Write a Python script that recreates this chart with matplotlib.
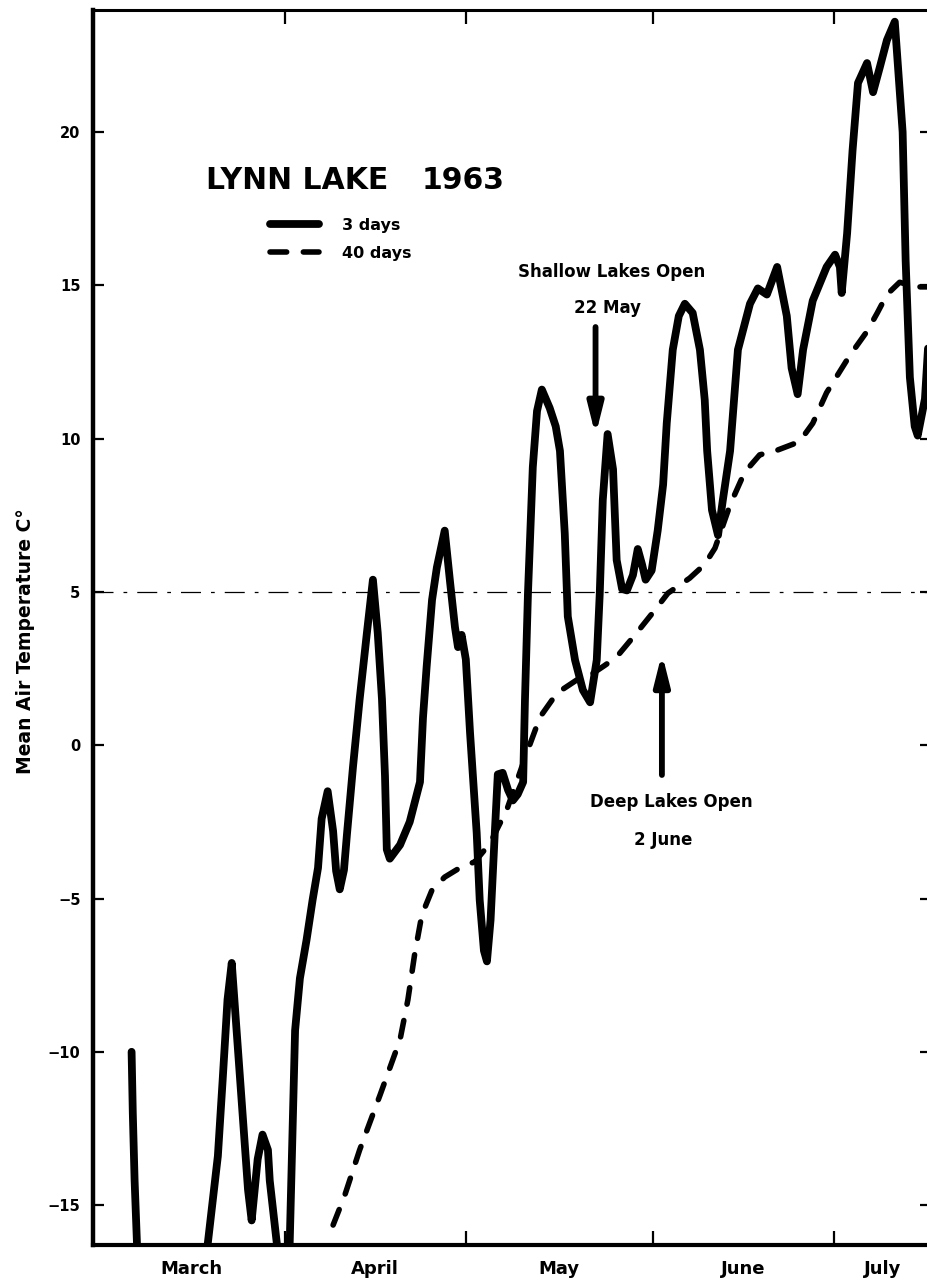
import matplotlib
matplotlib.use("Agg")
import matplotlib.pyplot as plt

# ---- data: day of year 1963 and mean air temperature (deg C) ----
days_3 = [65.6, 65.8, 66.1, 66.5, 67.3, 77.5, 78.2, 79.9, 80.7, 81.5, 82.2, 83.0,
          84.0, 84.9, 85.5, 86.5, 87.3, 88.2, 88.5, 89.7, 90.5, 91.2, 91.8, 92.7,
          93.5, 94.6, 95.6, 96.5, 97.1, 98.1, 99.0, 99.5, 100.1, 100.8, 101.3, 102.3,
          103.4, 104.6, 105.6, 106.4, 107.1, 107.6, 107.9, 108.4, 110.1, 111.7, 113.4,
          113.9, 114.5, 115.4, 116.2, 117.5, 118.4, 119.2, 119.7, 120.3, 121.0, 121.7,
          122.8, 123.3, 124.0, 124.5, 125.1, 125.8, 126.3, 127.1, 128.0, 128.8, 129.6,
          130.5, 130.8, 131.3, 132.1, 132.8, 133.6, 134.9, 135.9, 136.6, 137.4, 137.9,
          139.1, 140.4, 141.6, 142.7, 143.2, 143.7, 144.5, 145.4, 146.0, 146.9, 147.7,
          148.7, 149.5, 150.2, 150.8, 151.8, 152.8, 153.7, 154.3, 155.3, 156.3, 157.3,
          158.6, 159.8, 160.6, 161.0, 161.8, 162.8, 163.6, 164.8, 166.1, 168.1, 169.4,
          170.9, 172.6, 174.2, 175.0, 176.0, 176.9, 178.5, 180.8, 182.2, 183.0, 183.3,
          184.2, 185.1, 186.0, 187.5, 188.5, 189.6, 190.8, 192.1, 193.4, 193.9, 194.6,
          195.4, 195.9, 197.1, 197.9]
temps_3 = [-10.0, -12.0, -14.2, -16.3, -18.0, -18.0, -16.3, -13.4, -10.9, -8.3, -7.1, -9.3,
           -12.0, -14.5, -15.5, -13.5, -12.7, -13.2, -14.2, -16.3, -18.0, -18.0, -16.3, -9.3,
           -7.6, -6.35, -5.05, -4.0, -2.4, -1.5, -2.8, -4.1, -4.7, -4.07, -2.9, -0.7,
           1.5, 3.66, 5.4, 3.66, 1.5, -1.0, -3.4, -3.7, -3.25, -2.5, -1.2,
           0.9, 2.55, 4.74, 5.8, 7.0, 5.3, 3.85, 3.2, 3.6, 2.8, 0.4,
           -2.86, -5.05, -6.7, -7.05, -5.7, -2.86, -0.95, -0.9, -1.46, -1.8, -1.6,
           -1.2, 1.47, 4.96, 9.07, 10.9, 11.6, 11.0, 10.4, 9.6, 6.9, 4.2,
           2.78, 1.8, 1.4, 2.78, 4.96, 8.0, 10.15, 9.0, 6.04, 5.1, 5.05,
           5.55, 6.4, 5.9, 5.4, 5.7, 7.0, 8.5, 10.5, 12.9, 14.0, 14.4,
           14.1, 12.9, 11.26, 9.6, 7.67, 6.85, 8.0, 9.6, 12.9, 14.4, 14.9,
           14.7, 15.6, 14.0, 12.3, 11.45, 12.9, 14.5, 15.6, 16.0, 15.6, 14.75,
           16.7, 19.4, 21.6, 22.25, 21.3, 22.1, 23.0, 23.6, 20.0, 15.8, 12.0,
           10.4, 10.1, 11.3, 13.9]

days_40 = [99.0, 100.9, 103.4, 106.8, 110.1, 111.4, 112.5, 113.7, 115.4, 117.5, 120.0,
           122.5, 125.0, 127.8, 131.1, 133.3, 136.1, 139.4, 142.1, 144.0, 146.0, 149.3,
           152.3, 154.5, 158.1, 160.6, 162.3, 164.8, 167.2, 169.7, 172.7, 176.3, 178.5,
           180.8, 184.6, 187.5, 189.2, 190.8, 192.9, 195.7, 197.9]
temps_40 = [-15.65, -14.7, -13.2, -11.4, -9.6, -8.3, -6.84, -5.54, -4.72, -4.3, -4.0,
            -3.8, -3.2, -2.1, -0.25, 0.92, 1.7, 2.13, 2.35, 2.6, 2.88, 3.66,
            4.4, 4.96, 5.45, 5.9, 6.43, 7.84, 8.9, 9.47, 9.63, 9.9, 10.5,
            11.5, 12.7, 13.5, 14.1, 14.7, 15.1, 14.95, 14.95]

# first day of each month (day of year) and month names
month_starts = [60, 91, 121, 152, 182, 213]
month_names = ["March", "April", "May", "June", "July"]

y_ticks = [-15, -10, -5, 0, 5, 10, 15, 20]
y_ticklabels = ["\u221215", "\u221210", "\u22125", "0", "5", "10", "15", "20"]

# lake opening dates (day of year)
shallow_open_day = 142   # 22 May
deep_open_day = 153      # 2 June
threshold_temp = 5

x_min, x_max = 59.2, 198.1
y_min, y_max = -16.3, 23.98

fig = plt.figure(figsize=(9.27, 12.86), dpi=100)
ax = fig.add_axes([0.1003, 0.0319, 0.904, 0.9603])
ax.set_xlim(x_min, x_max)
ax.set_ylim(y_min, y_max)

# 5 degree reference line
ax.axhline(threshold_temp, color="black", lw=0.9, linestyle=(0, (16, 8, 3, 8)), zorder=1)

line3, = ax.plot(days_3, temps_3, color="black", lw=5.6, solid_joinstyle="round",
                 solid_capstyle="round", label="3 days", zorder=3)
line40, = ax.plot(days_40, temps_40, color="black", lw=4.0, dashes=(3.0, 3.0),
                  dash_capstyle="round", label="40 days", zorder=2)

# spines
for side, w in (("left", 3.2), ("bottom", 3.0), ("top", 2.2), ("right", 2.2)):
    ax.spines[side].set_linewidth(w)

# x axis: month boundaries as ticks, names centred in the visible part of each month
ax.set_xticks(month_starts[1:5])
ax.set_xticklabels([])
mids = []
for a, b in zip(month_starts[:-1], month_starts[1:]):
    lo, hi = max(a, x_min), min(b, x_max)
    mids.append((lo + hi) / 2)
ax.set_xticks(mids, minor=True)
ax.set_xticklabels(month_names, minor=True, fontsize=13, fontweight="bold")
ax.tick_params(axis="x", which="major", direction="in", length=10, width=1.6,
               top=True, bottom=True)
ax.tick_params(axis="x", which="minor", length=0, pad=11)

ax.set_yticks(y_ticks)
ax.set_yticklabels(y_ticklabels, fontsize=10.5, fontweight="bold")
ax.tick_params(axis="y", direction="in", length=8, width=1.6, left=True, right=True, pad=9)

ax.set_ylabel("Mean Air Temperature C\u00b0", fontsize=13.5, fontweight="bold")
ax.yaxis.set_label_coords(-0.069, 0.489)

# title and legend
ax.text(78.0, 18.43, "LYNN LAKE", fontsize=21.5, fontweight="bold",
        ha="left", va="center")
ax.text(113.6, 18.43, "1963", fontsize=21.5, fontweight="bold",
        ha="left", va="center")
ax.legend(handles=[line3, line40], loc="upper left", bbox_to_anchor=(0.211, 0.832),
          frameon=False, handlelength=3.1, handletextpad=1.4, borderpad=0,
          borderaxespad=0, labelspacing=0.85, prop={"weight": "bold", "size": 11.5})

# lake opening arrows and labels
arrow_kw = dict(arrowstyle="-|>,head_length=1.8,head_width=0.45", lw=4.2, color="black",
                shrinkA=0, shrinkB=0, mutation_scale=10)
ax.annotate("", xy=(shallow_open_day + 0.5, 10.1), xytext=(shallow_open_day + 0.5, 13.64),
            arrowprops=arrow_kw)
ax.annotate("", xy=(deep_open_day + 0.5, 3.0), xytext=(deep_open_day + 0.5, -0.97),
            arrowprops=arrow_kw)

ax.text(145.2, 15.43, "Shallow Lakes Open", fontsize=12, fontweight="bold",
        ha="center", va="center")
ax.text(144.4, 14.26, "22 May", fontsize=12, fontweight="bold", ha="center", va="center")
ax.text(155.0, -1.85, "Deep Lakes Open", fontsize=12, fontweight="bold",
        ha="center", va="center")
ax.text(153.65, -3.09, "2 June", fontsize=12, fontweight="bold", ha="center", va="center")

fig.savefig("out.png", dpi=100, facecolor="white")
